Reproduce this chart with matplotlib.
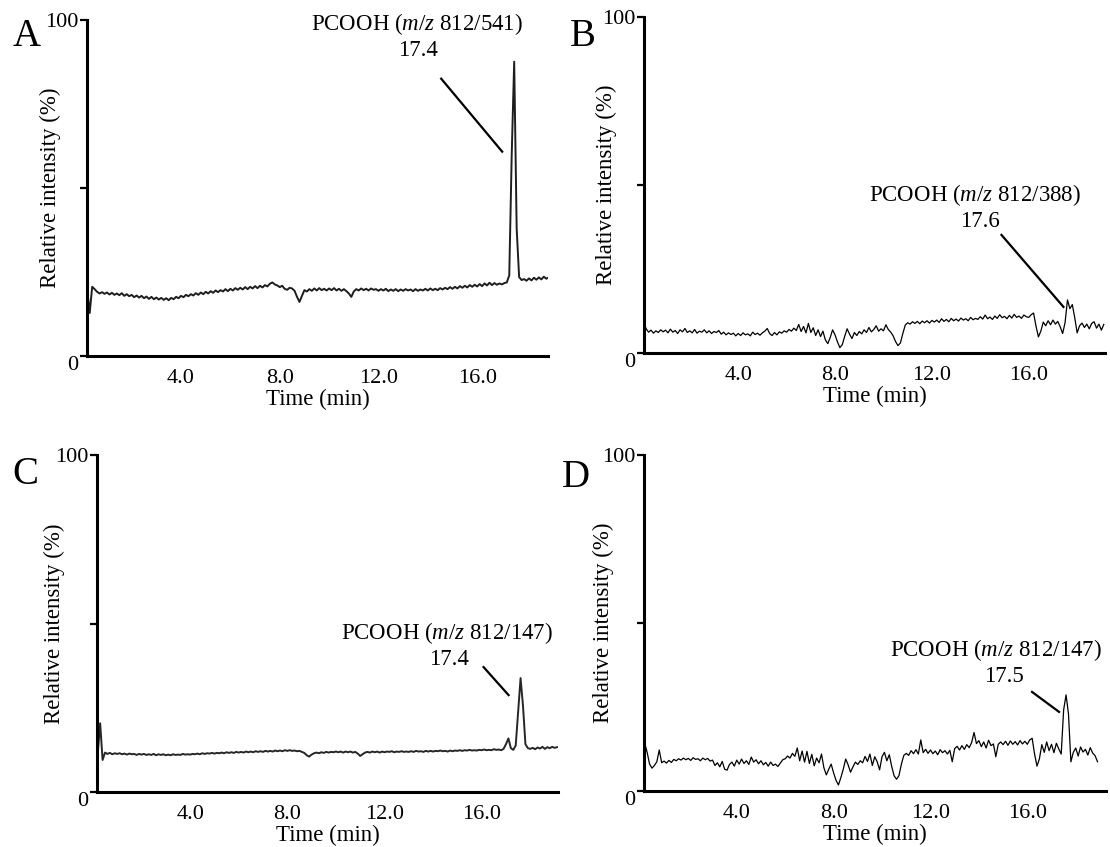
import numpy as np
import matplotlib
matplotlib.use("Agg")
import matplotlib.pyplot as plt
from matplotlib.lines import Line2D

plt.rcParams['font.family'] = 'Liberation Serif'
plt.rcParams['mathtext.fontset'] = 'custom'
plt.rcParams['mathtext.rm'] = 'Liberation Serif'
plt.rcParams['mathtext.it'] = 'Liberation Serif:italic'

# chromatogram traces, relative intensity (%) sampled every 0.1 min
t0_a = 0.2
int_a = [19.6, 12.8, 20.6, 19.9, 19.1, 18.6, 19.0, 18.5,
         18.9, 18.3, 18.8, 18.2, 18.6, 18.1, 18.7, 17.9, 18.4, 17.8,
         18.2, 17.5, 18.0, 17.4, 17.9, 17.2, 17.7, 17.0, 17.6, 16.9,
         17.4, 16.8, 17.3, 16.7, 17.2, 16.6, 17.3, 16.9, 17.6, 17.2,
         17.9, 17.5, 18.2, 17.8, 18.4, 18.0, 18.7, 18.2, 18.9, 18.4,
         19.1, 18.6, 19.3, 18.8, 19.5, 19.0, 19.6, 19.2, 19.9, 19.3,
         20.0, 19.5, 20.2, 19.7, 20.3, 19.8, 20.5, 19.9, 20.6, 20.1,
         20.8, 20.2, 20.9, 20.4, 21.1, 20.7, 21.5, 21.9, 21.3, 21.0,
         20.5, 20.9, 20.0, 19.7, 20.3, 20.1, 19.4, 17.6, 16.1, 17.9,
         19.6, 19.2, 19.9, 19.4, 20.1, 19.5, 20.2, 19.6, 20.0, 19.5,
         20.1, 19.6, 20.2, 19.5, 20.0, 19.4, 19.9, 19.3, 18.6, 17.6,
         19.2, 19.9, 19.5, 20.1, 19.6, 20.0, 19.5, 20.1, 19.7, 19.9,
         19.4, 19.9, 19.5, 20.0, 19.3, 19.8, 19.4, 19.9, 19.3, 19.8,
         19.4, 19.9, 19.5, 19.8, 19.3, 19.9, 19.4, 19.8, 19.5, 20.0,
         19.5, 20.1, 19.6, 20.0, 19.6, 20.2, 19.8, 20.3, 19.9, 20.5,
         20.0, 20.6, 20.1, 20.8, 20.3, 20.9, 20.4, 21.1, 20.6, 21.2,
         20.7, 21.4, 20.8, 21.6, 21.0, 21.8, 21.1, 21.7, 21.2, 21.6,
         21.3, 21.7, 21.9, 24.0, 60.0, 87.6, 38.0, 23.5, 22.6, 22.9,
         22.4, 23.1, 22.5, 23.3, 22.7, 23.4, 22.8, 23.6, 23.0, 23.4]

t0_b = 0.1
int_b = [8.8, 7.2, 6.2, 6.8, 5.9, 6.6, 6.1, 6.9, 6.3,
         6.8, 6.0, 7.1, 6.2, 6.7, 5.8, 6.9, 6.3, 7.3, 6.1,
         6.6, 6.0, 7.0, 5.9, 6.5, 6.2, 6.9, 6.0, 6.6, 5.8,
         6.4, 6.1, 6.7, 5.6, 6.2, 5.4, 6.0, 5.5, 5.9, 5.1,
         5.8, 5.2, 6.0, 5.4, 5.7, 5.1, 6.2, 5.5, 5.9, 5.3,
         6.0, 6.5, 7.3, 5.8, 5.2, 6.1, 5.4, 6.3, 5.9, 6.6,
         6.2, 7.0, 6.5, 7.4, 6.7, 8.5, 6.4, 7.9, 6.0, 8.8,
         6.1, 7.5, 5.2, 6.9, 4.9, 6.5, 3.9, 2.8, 4.6, 6.9,
         5.4, 3.3, 1.6, 2.5, 5.0, 7.2, 5.6, 4.3, 6.1, 5.2,
         6.4, 5.7, 6.9, 6.1, 7.6, 6.3, 7.0, 8.1, 6.5, 7.2,
         6.6, 8.4, 7.0, 6.2, 5.1, 3.4, 2.2, 3.0, 5.8, 8.3,
         9.0, 8.6, 9.3, 8.8, 9.4, 8.7, 9.5, 9.0, 9.6, 8.9,
         9.7, 9.2, 9.8, 9.1, 10.2, 9.4, 10.0, 9.3, 10.3, 9.6,
         10.1, 9.5, 10.4, 9.8, 10.2, 9.6, 10.6, 9.9, 10.3, 10.0,
         10.8, 10.1, 11.3, 10.2, 10.7, 10.0, 11.0, 10.3, 11.4, 10.5,
         10.9, 10.2, 11.2, 10.4, 11.5, 10.6, 11.0, 10.3, 11.3, 10.8,
         10.6, 11.4, 11.9, 8.0, 4.8, 6.5, 9.2, 8.1, 9.6, 8.4,
         9.8, 8.6, 9.4, 7.8, 5.8, 9.0, 15.8, 13.2, 14.4, 10.5,
         6.0, 8.1, 8.9, 7.6, 8.6, 7.2, 8.8, 9.3, 7.4, 8.6,
         6.8, 8.5]

t0_c = 0.2
int_c = [11.4, 20.4, 9.5, 11.7, 11.3, 11.6, 11.2, 11.5,
         11.3, 11.5, 11.2, 11.4, 11.1, 11.4, 11.2, 11.3, 11.0, 11.3,
         11.1, 11.3, 11.0, 11.2, 11.0, 11.3, 10.9, 11.2, 11.0, 11.2,
         10.9, 11.1, 10.9, 11.2, 11.0, 11.1, 11.0, 11.3, 11.1, 11.2,
         11.1, 11.3, 11.2, 11.4, 11.2, 11.5, 11.3, 11.5, 11.4, 11.6,
         11.4, 11.6, 11.5, 11.7, 11.5, 11.8, 11.6, 11.8, 11.6, 11.9,
         11.7, 11.9, 11.7, 12.0, 11.8, 12.0, 11.8, 12.1, 11.9, 12.1,
         11.9, 12.2, 12.0, 12.2, 12.0, 12.3, 12.1, 12.3, 12.1, 12.4,
         12.2, 12.4, 12.2, 12.3, 12.1, 12.2, 11.9, 11.6, 10.9, 10.5,
         11.1, 11.5, 11.7, 11.5, 11.8, 11.6, 11.9, 11.7, 11.9, 11.8,
         12.0, 11.8, 12.0, 11.7, 12.0, 11.8, 12.0, 11.7, 11.9, 11.4,
         10.7, 11.2, 11.7, 11.9, 11.7, 12.0, 11.8, 12.0, 11.7, 12.0,
         11.8, 12.0, 11.9, 12.1, 11.8, 12.0, 11.9, 12.1, 11.9, 12.0,
         11.9, 12.1, 11.9, 12.2, 12.0, 12.1, 11.9, 12.2, 12.0, 12.2,
         12.0, 12.2, 12.1, 12.3, 12.1, 12.2, 12.0, 12.3, 12.1, 12.3,
         12.2, 12.4, 12.2, 12.4, 12.3, 12.5, 12.3, 12.4, 12.3, 12.5,
         12.4, 12.6, 12.4, 12.5, 12.4, 12.7, 12.5, 12.6, 12.4, 12.8,
         14.2, 15.9, 13.0, 12.5, 13.8, 24.0, 33.8, 25.5, 14.2, 13.0,
         12.8, 13.1, 12.7, 13.2, 12.9, 13.4, 12.8, 13.3, 13.0, 13.4,
         13.1, 13.3]

t0_d = 0.2
int_d = [14.2, 11.5, 8.0, 6.8, 7.6, 8.7, 12.2, 8.4,
         8.9, 8.3, 9.1, 8.5, 9.4, 9.0, 9.6, 9.2, 9.8, 9.3,
         9.7, 9.1, 9.9, 9.4, 9.6, 9.0, 9.8, 9.3, 9.7, 8.9,
         9.2, 7.6, 8.4, 7.2, 8.8, 6.5, 6.2, 7.9, 8.6, 7.4,
         9.2, 8.0, 9.5, 8.2, 9.0, 7.9, 10.1, 8.6, 9.3, 8.1,
         9.0, 7.8, 8.5, 7.4, 8.6, 7.6, 8.0, 7.3, 8.3, 9.3,
         9.6, 10.4, 9.8, 11.2, 10.3, 12.8, 9.0, 11.9, 8.6, 11.8,
         8.2, 10.9, 7.5, 9.8, 8.4, 11.0, 6.9, 4.8, 6.5, 8.0,
         5.4, 3.2, 1.8, 4.0, 6.5, 9.5, 7.8, 5.6, 7.2, 8.6,
         7.9, 9.0, 8.4, 10.3, 8.8, 11.0, 7.6, 10.2, 8.7, 6.3,
         10.2, 11.5, 9.0, 10.8, 7.3, 4.5, 3.5, 4.6, 8.0, 10.6,
         11.2, 10.6, 12.0, 11.1, 12.3, 11.0, 15.2, 11.4, 12.4, 11.2,
         12.2, 11.1, 11.9, 10.8, 12.3, 11.4, 12.0, 11.0, 12.1, 8.7,
         12.6, 13.3, 12.2, 13.5, 12.4, 13.8, 12.9, 14.4, 17.4, 14.1,
         15.0, 13.2, 14.6, 12.8, 15.1, 13.5, 14.0, 10.2, 13.9, 14.6,
         13.8, 14.8, 13.6, 14.9, 13.9, 14.7, 13.7, 15.0, 14.0, 14.8,
         13.9, 15.2, 15.7, 11.0, 7.4, 9.6, 13.8, 11.5, 14.6, 12.0,
         13.9, 11.4, 14.2, 12.5, 11.0, 24.1, 28.6, 23.0, 8.7, 11.5,
         12.8, 10.4, 13.1, 11.6, 12.4, 10.7, 12.9, 11.3, 10.5, 8.7]

letters = ["A", "B", "C", "D"]
mz_labels = ["812/541", "812/388", "812/147", "812/147"]
rt_labels = ["17.4", "17.6", "17.4", "17.5"]
x_ticks = [4, 8, 12, 16]
x_ticklabels = ["4.0", "8.0", "12.0", "16.0"]

W, H = 1110, 847
fig = plt.figure(figsize=(W / 100, H / 100), dpi=100)

# pixel layout: left, right, top, bottom of each plot area
boxes = [(87, 548, 20, 356), (644, 1105, 17, 353),
         (97, 558, 455, 792), (644, 1106, 455, 791)]
xlims = [(0.19, 18.87), (0.11, 19.15), (0.17, 19.14), (0.17, 19.25)]
letter_pos = [(27, 37), (583, 37), (25, 474), (576, 477)]
# offsets (px) from peak top: name line, rt line, leader start, leader end
ann = [((-97, -38), (-96, -11), (-73, 17), (-12, 90)),
       ((-92, -105), (-88, -78), (-66, -65), (-4, 7)),
       ((-74, -45), (-72, -19), (-37, -11), (-12, 17)),
       ((-70, -45), (-62, -18), (-34, -3), (-7, 17))]
ylab_off = [-0.057, -0.059, -0.07, -0.065]
traces = [(t0_a, int_a, '#1e1e1e', 1.4), (t0_b, int_b, 'black', 0.9),
          (t0_c, int_c, '#262626', 1.4), (t0_d, int_d, 'black', 0.9)]

for i, (l, r, tp, bt) in enumerate(boxes):
    ax = fig.add_axes([l / W, 1 - bt / H, (r - l) / W, (bt - tp) / H])
    t0, vals, col, lw = traces[i]
    t = np.round(t0 + 0.1 * np.arange(len(vals)), 2)
    y = np.array(vals)
    ax.plot(t, y, color=col, lw=lw)
    ax.set_xlim(*xlims[i])
    ax.set_ylim(0, 100)
    for s in ['top', 'right']:
        ax.spines[s].set_visible(False)
    for s in ['left', 'bottom']:
        ax.spines[s].set_linewidth(2.2)
    ax.set_xticks(x_ticks)
    ax.set_xticklabels(x_ticklabels, fontsize=16)
    ax.tick_params(axis='x', length=0, pad=9)
    ax.set_yticks([0, 50, 100])
    ax.set_yticklabels(["0", "", "100"], fontsize=16)
    ax.tick_params(axis='y', length=5, width=1.6, pad=1)
    ax.get_yticklabels()[0].set_va('top')
    ax.set_xlabel("Time (min)", fontsize=16.5, labelpad=1)
    ax.set_ylabel("Relative intensity (%)", fontsize=16.5)
    ax.yaxis.set_label_coords(ylab_off[i], 0.5)

    # peak annotation
    k = np.argmax(np.where(t > 16, y, 0))
    px, py = ax.transData.transform((t[k], y[k]))
    o1, o2, o3, o4 = ann[i]
    fig.text((px + o1[0]) / W, (py - o1[1]) / H,
             "PCOOH ($\\mathit{m/z}$ " + mz_labels[i] + ")",
             ha='center', va='center', fontsize=16.5)
    fig.text((px + o2[0]) / W, (py - o2[1]) / H, rt_labels[i],
             ha='center', va='center', fontsize=16.5)
    fig.add_artist(Line2D([(px + o3[0]) / W, (px + o4[0]) / W],
                          [(py - o3[1]) / H, (py - o4[1]) / H],
                          color='black', lw=1.6))

    lx, ly = letter_pos[i]
    fig.text(lx / W, 1 - ly / H, letters[i], fontsize=28,
             ha='center', va='center')

fig.savefig("out.png", dpi=100)
